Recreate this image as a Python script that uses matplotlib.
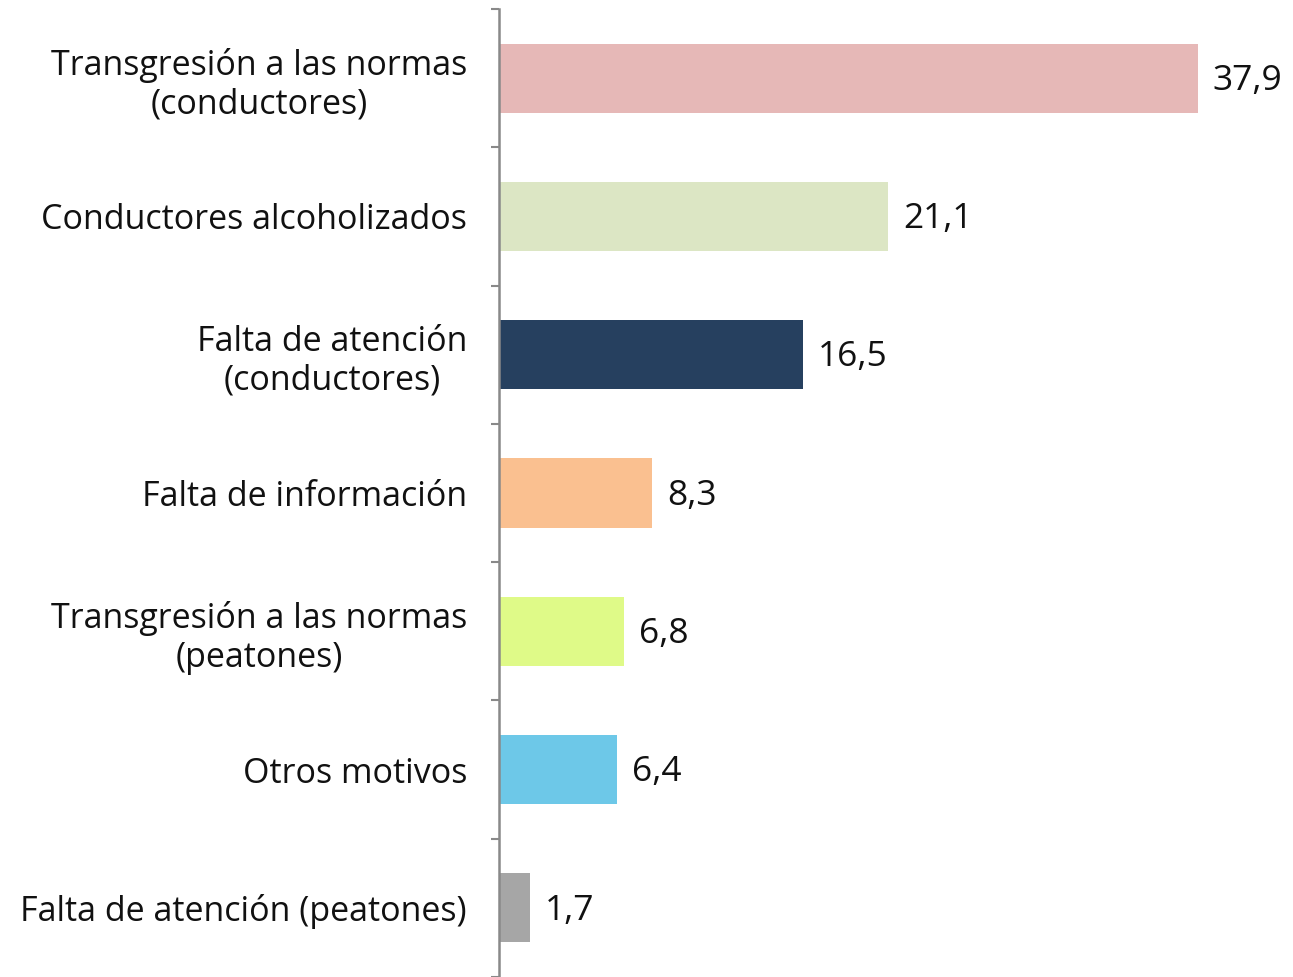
import matplotlib.pyplot as plt
import numpy as np

plt.rcParams['font.family'] = ['Open Sans', 'DejaVu Sans']

categories = ['Transgresión a las normas\n(conductores)',
              'Conductores alcoholizados',
              'Falta de atención\n(conductores)',
              'Falta de información',
              'Transgresión a las normas\n(peatones)',
              'Otros motivos',
              'Falta de atención (peatones)']
values = [37.9, 21.1, 16.5, 8.3, 6.8, 6.4, 1.7]
value_labels = ['37,9', '21,1', '16,5', '8,3', '6,8', '6,4', '1,7']
colors = ['#E6B8B7', '#DCE6C4', '#26405F', '#FAC090', '#DFFA88', '#6DC8E8', '#A6A6A6']

fig = plt.figure(figsize=(12.93, 9.77), dpi=100)
ax = fig.add_axes([499 / 1293, 0.0, 0.599, 1 - 9 / 977])

y = np.arange(len(categories))
ax.barh(y, values, height=0.5, color=colors)

for yi, v, lab in zip(y, values, value_labels):
    ax.text(v + 0.8, yi + 0.02, lab, va='center', ha='left', fontsize=25.5, color='#111111')

ax.set_ylim(len(categories) - 0.5, -0.5)
ax.set_xlim(0, 42)

# ticks at category boundaries, labels centered on bars
ax.set_yticks(np.arange(-0.5, len(categories) + 0.5, 1))
ax.set_yticklabels([])
ax.set_yticks(y, minor=True)
ax.set_yticklabels(categories, minor=True, fontsize=24.5, multialignment='center')
ax.tick_params(axis='y', which='major', length=6, width=1.5, color='#898989')
ax.tick_params(axis='y', which='minor', length=0, pad=23, labelcolor='#111111')
ax.set_xticks([])

for s in ['top', 'right', 'bottom']:
    ax.spines[s].set_visible(False)
ax.spines['left'].set_color('#898989')
ax.spines['left'].set_linewidth(1.8)

plt.savefig('out.png', dpi=100)
